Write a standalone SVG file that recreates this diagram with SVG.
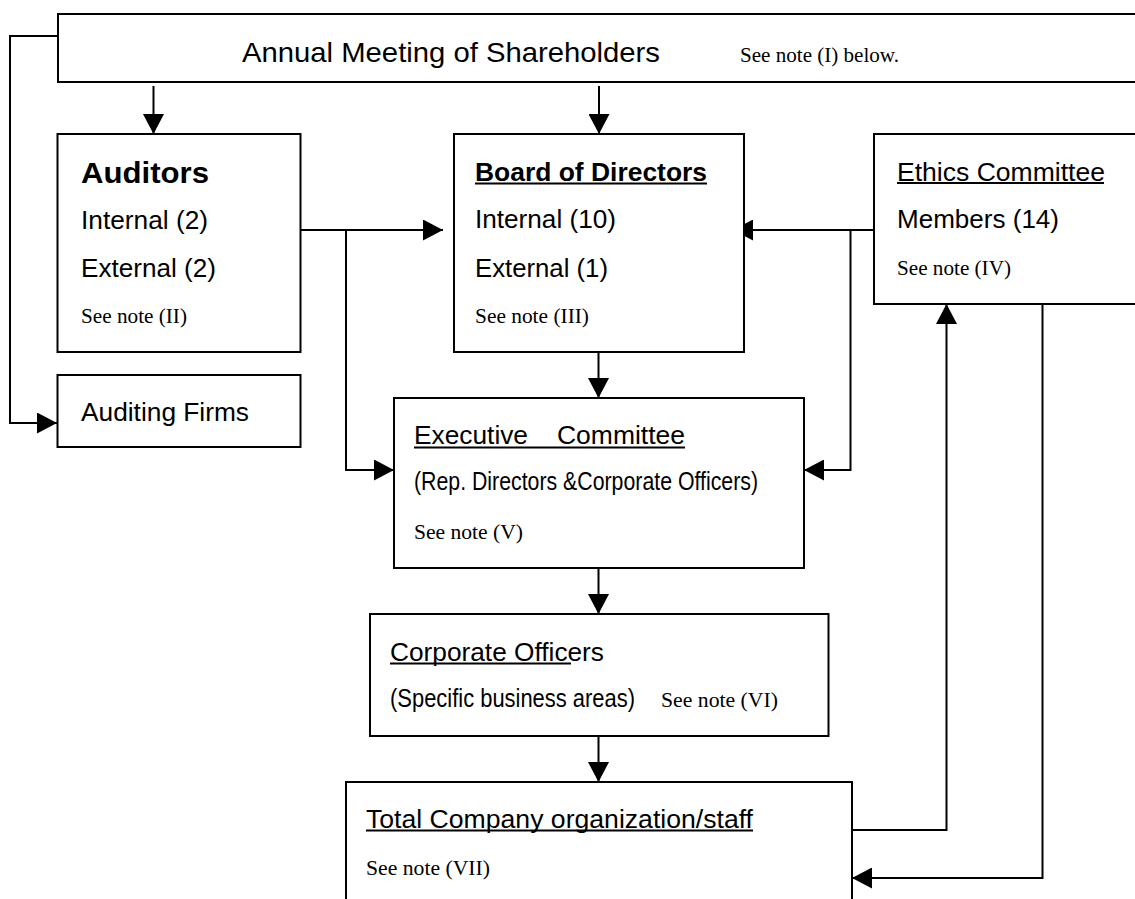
<svg xmlns="http://www.w3.org/2000/svg" width="1135" height="899" viewBox="0 0 1135 899">
<style>
.box{fill:#fff;stroke:#000;stroke-width:2}
.ln{fill:none;stroke:#000;stroke-width:2}
.ul{stroke:#000;stroke-width:2}
.s{font-family:"Liberation Sans",Arial,sans-serif;font-size:25px;fill:#000}
.b{font-family:"Liberation Sans",Arial,sans-serif;font-weight:bold;fill:#000}
.t{font-family:"Liberation Serif","Times New Roman",serif;font-size:21px;fill:#000}
</style>
<defs>
<marker id="ah" markerUnits="userSpaceOnUse" markerWidth="20" markerHeight="21" refX="20" refY="10.5" orient="auto" viewBox="0 0 20 21">
<path d="M0,0 L20,10.5 L0,21 z" fill="#000"/>
</marker>
</defs>
<g id="connectors">
<path class="ln" d="M153.5,86 V134" marker-end="url(#ah)"/>
<path class="ln" d="M599,86 V134" marker-end="url(#ah)"/>
<path class="ln" d="M61,36 H10 V423 H57" marker-end="url(#ah)"/>
<path class="ln" d="M298,230 H443" marker-end="url(#ah)"/>
<path class="ln" d="M346,230 V470 H394" marker-end="url(#ah)"/>
<path class="ln" d="M874,230 H733" marker-end="url(#ah)"/>
<path class="ln" d="M850.5,230 V470 H804" marker-end="url(#ah)"/>
<path class="ln" d="M598.5,352 V398" marker-end="url(#ah)"/>
<path class="ln" d="M598.5,568 V614" marker-end="url(#ah)"/>
<path class="ln" d="M598.5,736 V782" marker-end="url(#ah)"/>
<path class="ln" d="M850,830 H946.5 V304" marker-end="url(#ah)"/>
<path class="ln" d="M1042.5,303 V878 H852" marker-end="url(#ah)"/>
</g>
<g id="annual">
<rect class="box" x="58" y="14" width="1090" height="68"/>
<text class="s" x="242" y="62" style="font-size:28px" textLength="418" lengthAdjust="spacingAndGlyphs">Annual Meeting of Shareholders</text>
<text class="t" x="740" y="62" textLength="159" lengthAdjust="spacingAndGlyphs">See note (I) below.</text>
</g>
<g id="auditors">
<rect class="box" x="57.5" y="134" width="243" height="218"/>
<text class="b" x="81" y="183" style="font-size:30px" textLength="128" lengthAdjust="spacingAndGlyphs">Auditors</text>
<text class="s" x="81" y="229" textLength="127" lengthAdjust="spacingAndGlyphs">Internal (2)</text>
<text class="s" x="81" y="277" textLength="135" lengthAdjust="spacingAndGlyphs">External (2)</text>
<text class="t" x="81" y="323" textLength="106" lengthAdjust="spacingAndGlyphs">See note (II)</text>
</g>
<g id="auditing-firms">
<rect class="box" x="57.5" y="375" width="243" height="72"/>
<text class="s" x="81" y="421" textLength="168" lengthAdjust="spacingAndGlyphs">Auditing Firms</text>
</g>
<g id="board">
<rect class="box" x="454" y="134" width="290" height="218"/>
<text class="b" x="475" y="181" style="font-size:25px" textLength="232" lengthAdjust="spacingAndGlyphs">Board of Directors</text>
<line class="ul" x1="475" y1="183.5" x2="707" y2="183.5"/>
<text class="s" x="475" y="228" textLength="141" lengthAdjust="spacingAndGlyphs">Internal (10)</text>
<text class="s" x="475" y="277" textLength="133" lengthAdjust="spacingAndGlyphs">External (1)</text>
<text class="t" x="475" y="323" textLength="114" lengthAdjust="spacingAndGlyphs">See note (III)</text>
</g>
<g id="ethics">
<rect class="box" x="874" y="134" width="280" height="170"/>
<text class="s" x="897" y="181" textLength="208" lengthAdjust="spacingAndGlyphs">Ethics Committee</text>
<line class="ul" x1="897" y1="183" x2="1104" y2="183"/>
<text class="s" x="897" y="228" textLength="162" lengthAdjust="spacingAndGlyphs">Members (14)</text>
<text class="t" x="897" y="275" textLength="114" lengthAdjust="spacingAndGlyphs">See note (IV)</text>
</g>
<g id="executive">
<rect class="box" x="394" y="398" width="410" height="170"/>
<text class="s" x="414" y="444" textLength="114" lengthAdjust="spacingAndGlyphs">Executive</text>
<text class="s" x="557" y="444" textLength="128" lengthAdjust="spacingAndGlyphs">Committee</text>
<line class="ul" x1="414" y1="447.5" x2="685" y2="447.5"/>
<text class="s" x="414" y="490" textLength="344" lengthAdjust="spacingAndGlyphs">(Rep. Directors &amp;Corporate Officers)</text>
<text class="t" x="414" y="539" textLength="109" lengthAdjust="spacingAndGlyphs">See note (V)</text>
</g>
<g id="corporate-officers">
<rect class="box" x="370" y="614" width="458.5" height="122"/>
<text class="s" x="390" y="661" textLength="214" lengthAdjust="spacingAndGlyphs">Corporate Officers</text>
<line class="ul" x1="390" y1="663.5" x2="571" y2="663.5"/>
<text class="s" x="390" y="707" textLength="245" lengthAdjust="spacingAndGlyphs">(Specific business areas)</text>
<text class="t" x="661" y="707" textLength="117" lengthAdjust="spacingAndGlyphs">See note (VI)</text>
</g>
<g id="total-company">
<rect class="box" x="346" y="782" width="506" height="130"/>
<text class="s" x="366" y="828" textLength="387" lengthAdjust="spacingAndGlyphs">Total Company organization/staff</text>
<line class="ul" x1="366" y1="830.5" x2="753" y2="830.5"/>
<text class="t" x="366" y="875" textLength="124" lengthAdjust="spacingAndGlyphs">See note (VII)</text>
</g>
</svg>
